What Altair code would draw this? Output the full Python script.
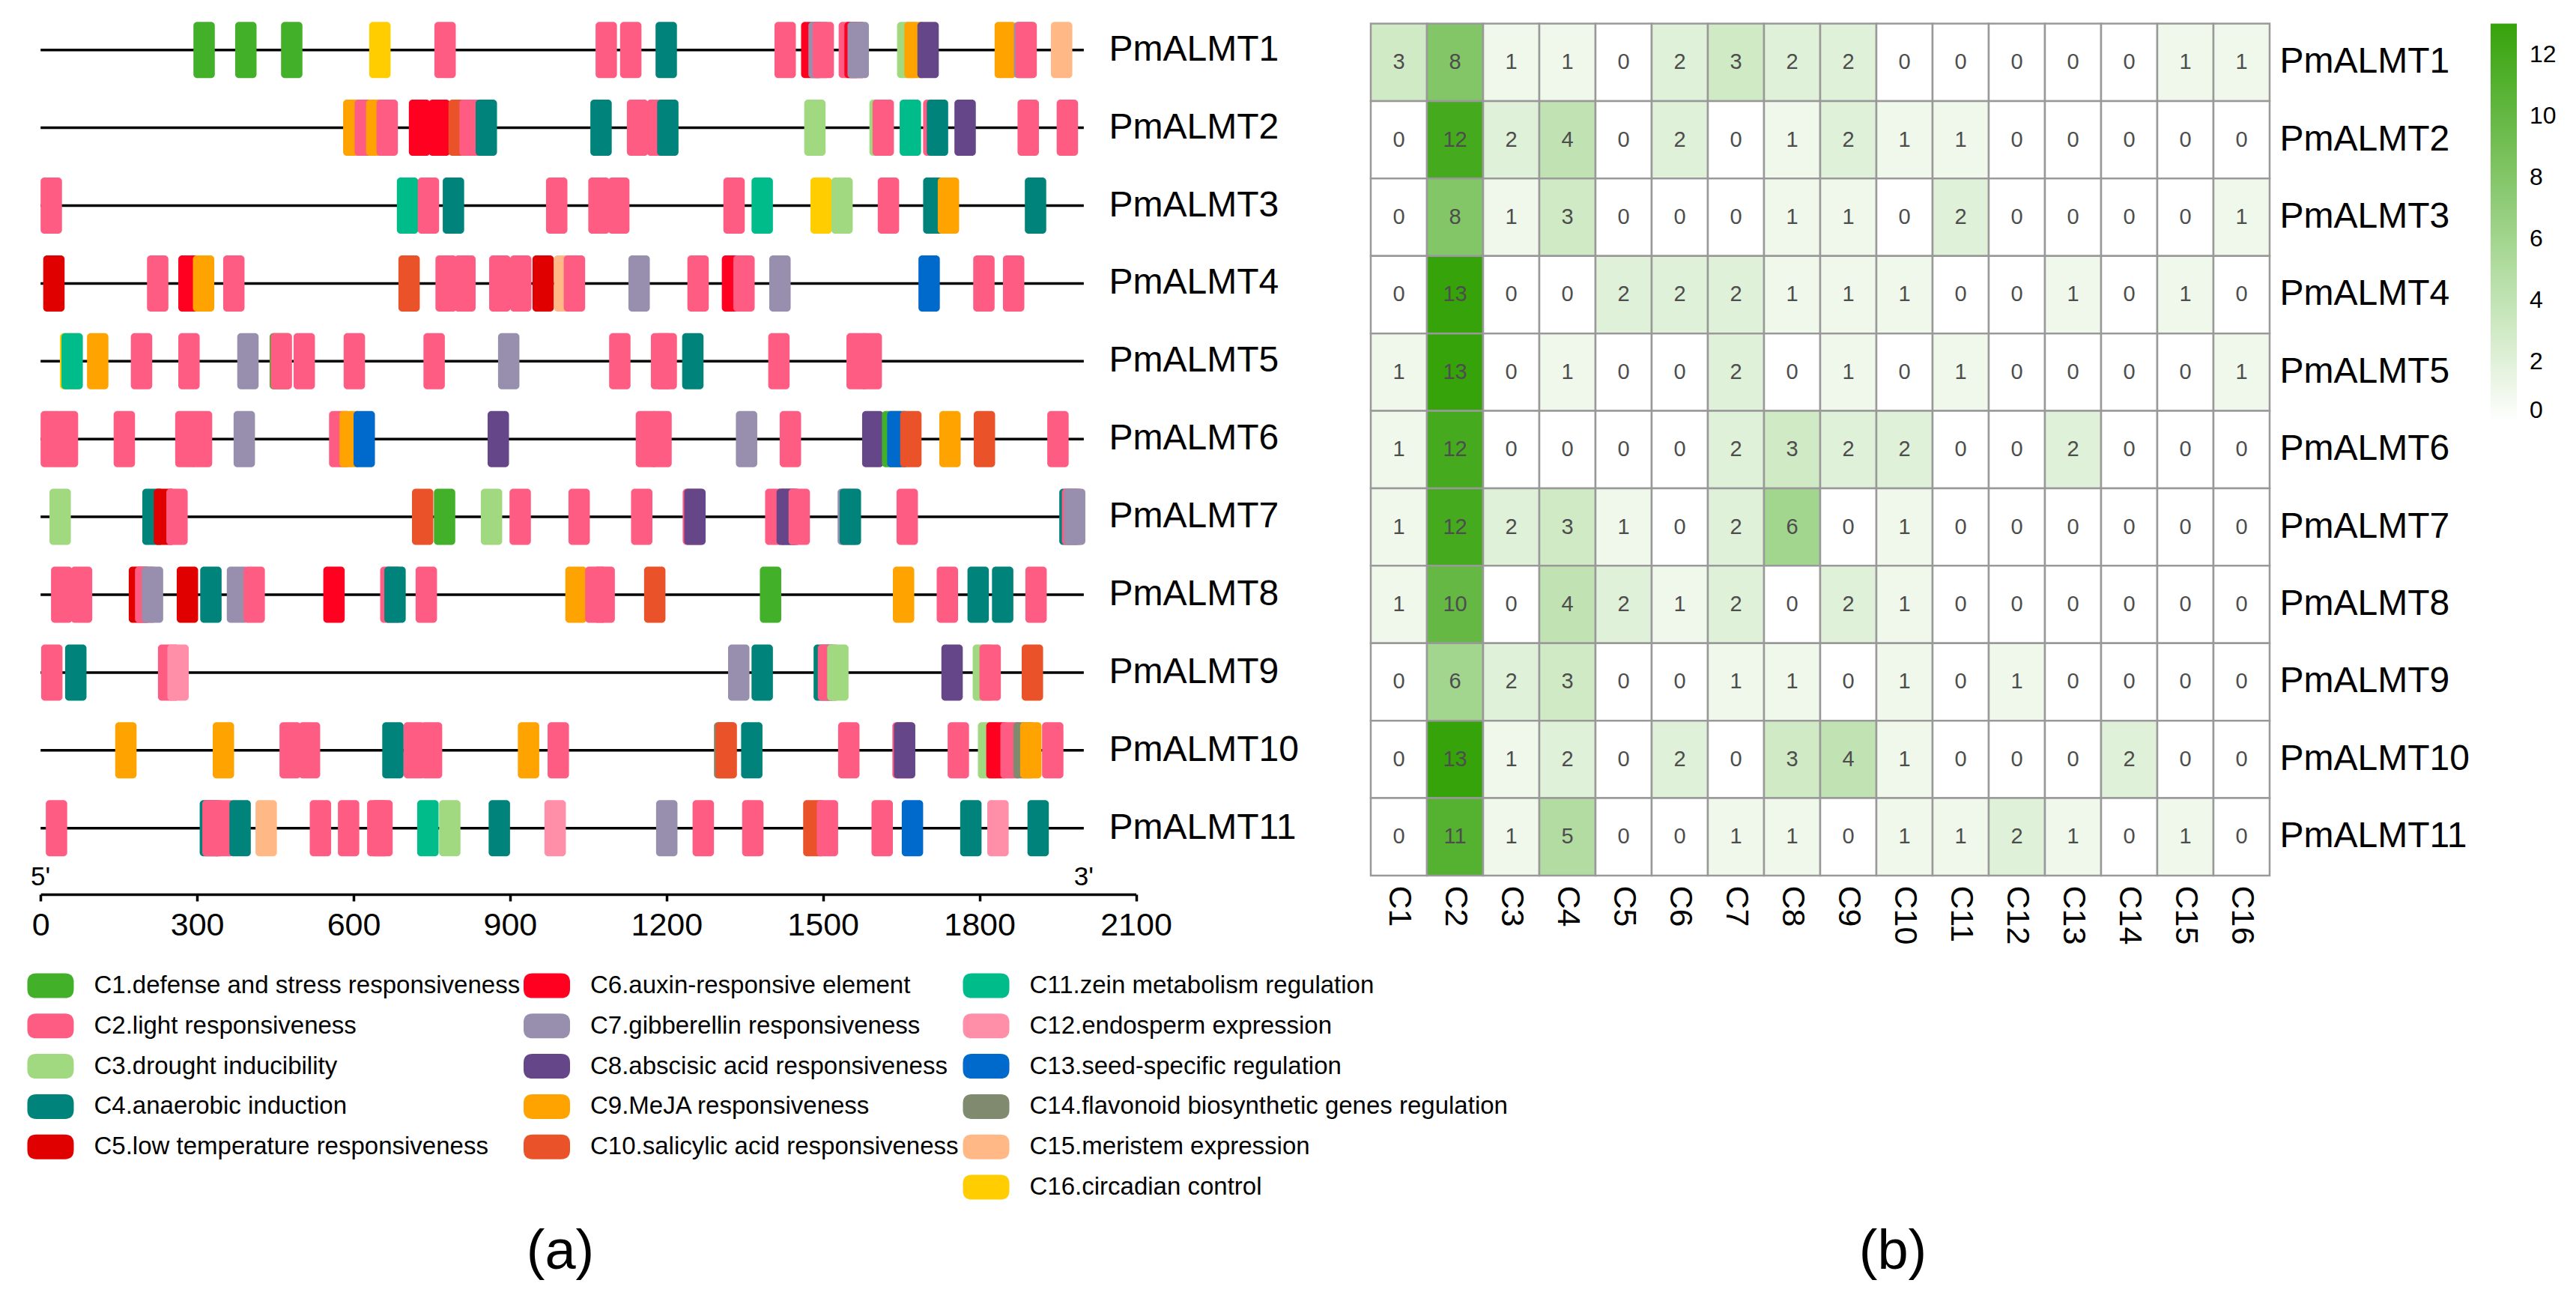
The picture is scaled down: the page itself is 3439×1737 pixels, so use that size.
import altair as alt
import pandas as pd

FONT = "Liberation Sans"

# ---------------- data ----------------
genes = [f"PmALMT{i}" for i in range(1, 12)]
categories = [f"C{i}" for i in range(1, 17)]
category_labels = [
    "C1.defense and stress responsiveness",
    "C2.light responsiveness",
    "C3.drought inducibility",
    "C4.anaerobic induction",
    "C5.low temperature responsiveness",
    "C6.auxin-responsive element",
    "C7.gibberellin responsiveness",
    "C8.abscisic acid responsiveness",
    "C9.MeJA responsiveness",
    "C10.salicylic acid responsiveness",
    "C11.zein metabolism regulation",
    "C12.endosperm expression",
    "C13.seed-specific regulation",
    "C14.flavonoid biosynthetic genes regulation",
    "C15.meristem expression",
    "C16.circadian control",
]
category_colors = [
    "#43B02A", "#FF5C83", "#A0D97F", "#00837A", "#E00000", "#FF0020",
    "#978FAD", "#654689", "#FFA300", "#EA532A", "#00BC8B", "#FF8FA8",
    "#0069CC", "#7F8A6E", "#FFB886", "#FFCD00",
]

gene_length = 2000
element_width = 41
axis_ticks = [0, 300, 600, 900, 1200, 1500, 1800, 2100]

almt1_pos = [293, 373, 461, 630, 755, 1064, 1111, 1179, 1407, 1458, 1472, 1480, 1530, 1541, 1547, 1642, 1656, 1681, 1829, 1866, 1869, 1937]
almt1_cat = ["C1", "C1", "C1", "C16", "C2", "C2", "C2", "C4", "C2", "C6", "C7", "C2", "C2", "C6", "C7", "C3", "C9", "C8", "C9", "C7", "C2", "C15"]

almt2_pos = [580, 602, 624, 644, 706, 744, 782, 803, 834, 1054, 1124, 1162, 1182, 1464, 1589, 1595, 1647, 1692, 1699, 1752, 1873, 1948]
almt2_cat = ["C9", "C2", "C9", "C2", "C6", "C6", "C10", "C2", "C4", "C4", "C2", "C2", "C4", "C3", "C3", "C2", "C11", "C2", "C4", "C8", "C2", "C2"]

almt3_pos = [0, 683, 723, 771, 969, 1050, 1088, 1309, 1363, 1476, 1516, 1605, 1692, 1720, 1887]
almt3_cat = ["C2", "C11", "C2", "C4", "C2", "C2", "C2", "C2", "C11", "C16", "C3", "C2", "C4", "C9", "C4"]

almt4_pos = [5, 204, 264, 292, 350, 686, 757, 793, 860, 900, 943, 984, 1003, 1127, 1240, 1306, 1328, 1397, 1683, 1788, 1845]
almt4_cat = ["C5", "C2", "C6", "C9", "C2", "C10", "C2", "C2", "C2", "C2", "C5", "C15", "C2", "C7", "C2", "C6", "C2", "C7", "C13", "C2", "C2"]

almt5_pos = [37, 40, 89, 173, 264, 377, 439, 441, 485, 581, 734, 877, 1090, 1170, 1179, 1230, 1395, 1545, 1572]
almt5_cat = ["C16", "C11", "C9", "C2", "C2", "C7", "C1", "C2", "C2", "C2", "C2", "C7", "C2", "C2", "C2", "C4", "C2", "C2", "C2"]

almt6_pos = [0, 31, 140, 258, 288, 370, 553, 573, 600, 857, 1141, 1169, 1333, 1417, 1575, 1613, 1623, 1648, 1723, 1789, 1930]
almt6_cat = ["C2", "C2", "C2", "C2", "C2", "C7", "C2", "C9", "C13", "C8", "C2", "C2", "C7", "C2", "C8", "C1", "C13", "C10", "C9", "C10", "C2"]

almt7_pos = [17, 195, 217, 241, 712, 754, 844, 899, 1012, 1132, 1231, 1234, 1389, 1411, 1416, 1434, 1528, 1532, 1641, 1953, 1958, 1962]
almt7_cat = ["C3", "C4", "C5", "C2", "C10", "C1", "C3", "C2", "C2", "C2", "C2", "C8", "C2", "C8", "C8", "C2", "C7", "C4", "C2", "C4", "C2", "C7"]

almt8_pos = [20, 58, 169, 181, 194, 261, 306, 357, 389, 542, 651, 659, 719, 1006, 1044, 1060, 1157, 1379, 1634, 1718, 1777, 1824, 1888]
almt8_cat = ["C2", "C2", "C5", "C2", "C7", "C5", "C4", "C7", "C2", "C6", "C2", "C4", "C2", "C9", "C2", "C2", "C10", "C1", "C9", "C2", "C4", "C4", "C2"]

almt9_pos = [1, 47, 225, 243, 1318, 1363, 1482, 1490, 1508, 1727, 1787, 1800, 1881]
almt9_cat = ["C2", "C4", "C2", "C12", "C7", "C4", "C4", "C2", "C3", "C8", "C3", "C2", "C10"]

almt10_pos = [143, 330, 458, 495, 655, 696, 729, 915, 972, 1291, 1294, 1343, 1529, 1633, 1636, 1739, 1797, 1813, 1840, 1865, 1878, 1920]
almt10_cat = ["C9", "C9", "C2", "C2", "C4", "C2", "C2", "C9", "C2", "C14", "C10", "C4", "C2", "C2", "C8", "C2", "C3", "C6", "C2", "C14", "C9", "C2"]

almt11_pos = [10, 305, 310, 330, 362, 412, 516, 570, 626, 634, 722, 764, 859, 966, 1180, 1250, 1345, 1462, 1488, 1593, 1651, 1763, 1815, 1892]
almt11_cat = ["C2", "C4", "C2", "C2", "C4", "C15", "C2", "C2", "C2", "C2", "C11", "C3", "C4", "C12", "C7", "C2", "C2", "C10", "C2", "C2", "C13", "C4", "C12", "C4"]

# heatmap counts (columns C1..C16)
count_almt1 = [3, 8, 1, 1, 0, 2, 3, 2, 2, 0, 0, 0, 0, 0, 1, 1]
count_almt2 = [0, 12, 2, 4, 0, 2, 0, 1, 2, 1, 1, 0, 0, 0, 0, 0]
count_almt3 = [0, 8, 1, 3, 0, 0, 0, 1, 1, 0, 2, 0, 0, 0, 0, 1]
count_almt4 = [0, 13, 0, 0, 2, 2, 2, 1, 1, 1, 0, 0, 1, 0, 1, 0]
count_almt5 = [1, 13, 0, 1, 0, 0, 2, 0, 1, 0, 1, 0, 0, 0, 0, 1]
count_almt6 = [1, 12, 0, 0, 0, 0, 2, 3, 2, 2, 0, 0, 2, 0, 0, 0]
count_almt7 = [1, 12, 2, 3, 1, 0, 2, 6, 0, 1, 0, 0, 0, 0, 0, 0]
count_almt8 = [1, 10, 0, 4, 2, 1, 2, 0, 2, 1, 0, 0, 0, 0, 0, 0]
count_almt9 = [0, 6, 2, 3, 0, 0, 1, 1, 0, 1, 0, 1, 0, 0, 0, 0]
count_almt10 = [0, 13, 1, 2, 0, 2, 0, 3, 4, 1, 0, 0, 0, 2, 0, 0]
count_almt11 = [0, 11, 1, 5, 0, 0, 1, 1, 0, 1, 1, 2, 1, 0, 1, 0]

# ---------------- tables ----------------
site_pos = [almt1_pos, almt2_pos, almt3_pos, almt4_pos, almt5_pos, almt6_pos,
            almt7_pos, almt8_pos, almt9_pos, almt10_pos, almt11_pos]
site_cat = [almt1_cat, almt2_cat, almt3_cat, almt4_cat, almt5_cat, almt6_cat,
            almt7_cat, almt8_cat, almt9_cat, almt10_cat, almt11_cat]
counts = [count_almt1, count_almt2, count_almt3, count_almt4, count_almt5, count_almt6,
          count_almt7, count_almt8, count_almt9, count_almt10, count_almt11]

site_rows = []
for g, plist, clist in zip(genes, site_pos, site_cat):
    for p, c in zip(plist, clist):
        site_rows.append({"gene": g, "start": p, "end": p + element_width, "cat": c})
sites_df = pd.DataFrame(site_rows).sort_values("start", kind="stable")

genes_df = pd.DataFrame({"gene": genes, "start": 0, "end": gene_length})
ends_df = pd.DataFrame({"label": ["5'", "3'"], "pos": [0, gene_length]})

heat_rows = []
for g, row in zip(genes, counts):
    for c, v in zip(categories, row):
        heat_rows.append({"gene": g, "cat": c, "count": v})
heat_df = pd.DataFrame(heat_rows)

leg_rows = []
for i, (c, lab) in enumerate(zip(categories, category_labels)):
    col = min(i // 5, 2)
    row = i - 5 * col
    leg_rows.append({"cat": c, "label": lab, "col": col, "row": row})
leg_df = pd.DataFrame(leg_rows)

# ---------------- layout constants ----------------
W, H = 3420, 1720

gene_x = alt.Scale(domain=[0, 2100], range=[46.2, 1508.5], nice=False, zero=False)
gene_y = alt.Scale(domain=genes, range=[6.75, 1149.65], paddingInner=0.278, paddingOuter=0.139)
cat_color = alt.Scale(domain=categories, range=category_colors)

gene_x_axis = alt.Axis(
    values=axis_ticks, format="d", orient="bottom", offset=1186 - H, title=None, grid=False,
    domainColor="black", domainWidth=3.5, tickColor="black", tickWidth=3.5, tickSize=9,
    labelFontSize=43, labelFont=FONT, labelColor="black", labelPadding=11,
    labelFlush=False, labelOverlap=False,
)
gene_y_axis = alt.Axis(
    orient="right", offset=1472 - W, title=None, domain=False, ticks=False, tickSize=0,
    labelPadding=0, labelFontSize=48, labelFont=FONT, labelColor="black",
    labelAlign="left", labelBaseline="middle", labelLimit=0,
)

rules = alt.Chart(genes_df).mark_rule(color="black", strokeWidth=3.5).encode(
    x=alt.X("start:Q", scale=gene_x, axis=gene_x_axis),
    x2="end:Q",
    y=alt.Y("gene:N", scale=gene_y, axis=gene_y_axis),
)
boxes = alt.Chart(sites_df).mark_rect(cornerRadius=5).encode(
    x=alt.X("start:Q", scale=gene_x, axis=gene_x_axis),
    x2="end:Q",
    y=alt.Y("gene:N", scale=gene_y, axis=gene_y_axis),
    color=alt.Color("cat:N", scale=cat_color, legend=None),
)
ends = alt.Chart(ends_df).mark_text(fontSize=35, font=FONT, color="black", baseline="alphabetic").encode(
    x=alt.X("pos:Q", scale=gene_x, axis=gene_x_axis),
    y=alt.value(1174),
    text="label:N",
)
gene_panel = alt.layer(rules, boxes, ends)

# heatmap
hx = alt.Scale(domain=categories, range=[1822, 3022], paddingInner=0, paddingOuter=0)
hy = alt.Scale(domain=genes, range=[23.5, 1161], paddingInner=0, paddingOuter=0)
hx_axis = alt.Axis(
    orient="bottom", offset=1161 - H, title=None, domain=False, ticks=False, tickSize=0,
    labelAngle=90, labelPadding=13, labelFontSize=43, labelFont=FONT, labelColor="black",
    labelAlign="left", labelBaseline="middle",
)
hy_axis = alt.Axis(
    orient="right", offset=3022 - W, title=None, domain=False, ticks=False, tickSize=0,
    labelPadding=13, labelFontSize=48, labelFont=FONT, labelColor="black",
    labelAlign="left", labelBaseline="middle", labelLimit=0,
)
heat_color = alt.Scale(domain=[0, 13], range=["#FFFFFF", "#36A30A"], interpolate="rgb")
heat_legend = alt.Legend(
    orient="none", legendX=3317, legendY=23.5, direction="vertical", title=None,
    gradientLength=533, gradientThickness=35, gradientStrokeWidth=0,
    labelFontSize=32, labelFont=FONT, labelColor="black", labelOffset=17,
    labelBaseline="middle", values=[0, 2, 4, 6, 8, 10, 12], padding=0,
)
cells = alt.Chart(heat_df).mark_rect(stroke="#999999", strokeWidth=2.5).encode(
    x=alt.X("cat:N", scale=hx, axis=hx_axis),
    y=alt.Y("gene:N", scale=hy, axis=hy_axis),
    color=alt.Color("count:Q", scale=heat_color, legend=heat_legend),
)
nums = alt.Chart(heat_df).mark_text(fontSize=29, font=FONT, color="#4D4D4D").encode(
    x=alt.X("cat:N", scale=hx, axis=hx_axis),
    y=alt.Y("gene:N", scale=hy, axis=hy_axis),
    text="count:Q",
)
heat_panel = alt.layer(cells, nums)

# category legend (manual, column-major)
KEY = ("M -0.61,-0.532 L 0.61,-0.532 Q 1,-0.532 1,-0.142 L 1,0.142 Q 1,0.532 0.61,0.532 "
       "L -0.61,0.532 Q -1,0.532 -1,0.142 L -1,-0.142 Q -1,-0.532 -0.61,-0.532 Z")
lx = alt.Scale(domain=[0, 1, 2], range=[59.5, 722, 1308.5], zero=False, nice=False)
ly = alt.Scale(domain=[0, 5], range=[1308, 1577], zero=False, nice=False)
keys = alt.Chart(leg_df).mark_point(shape=KEY, size=3844, filled=True, opacity=1, strokeWidth=0).encode(
    x=alt.X("col:Q", scale=lx, axis=None),
    y=alt.Y("row:Q", scale=ly, axis=None),
    color=alt.Color("cat:N", scale=cat_color, legend=None),
)
key_text = alt.Chart(leg_df).mark_text(align="left", baseline="middle", dx=58, fontSize=33, font=FONT, color="black").encode(
    x=alt.X("col:Q", scale=lx, axis=None),
    y=alt.Y("row:Q", scale=ly, axis=None),
    text="label:N",
)
legend_panel = alt.layer(keys, key_text)

panel_a = alt.Chart(pd.DataFrame({"t": ["(a)"]})).mark_text(fontSize=74, font=FONT, color="black", baseline="alphabetic").encode(
    x=alt.value(740), y=alt.value(1686), text="t:N")
panel_b = alt.Chart(pd.DataFrame({"t": ["(b)"]})).mark_text(fontSize=74, font=FONT, color="black", baseline="alphabetic").encode(
    x=alt.value(2519), y=alt.value(1686), text="t:N")

chart = alt.layer(gene_panel, heat_panel, legend_panel, panel_a, panel_b).resolve_scale(
    x="independent", y="independent", color="independent"
).properties(
    width=W, height=H, padding=0, autosize=alt.AutoSizeParams(type="none"),
    background="white",
).configure_view(stroke=None)

chart.save("out.html", embed_options={"renderer": "svg", "actions": False})
